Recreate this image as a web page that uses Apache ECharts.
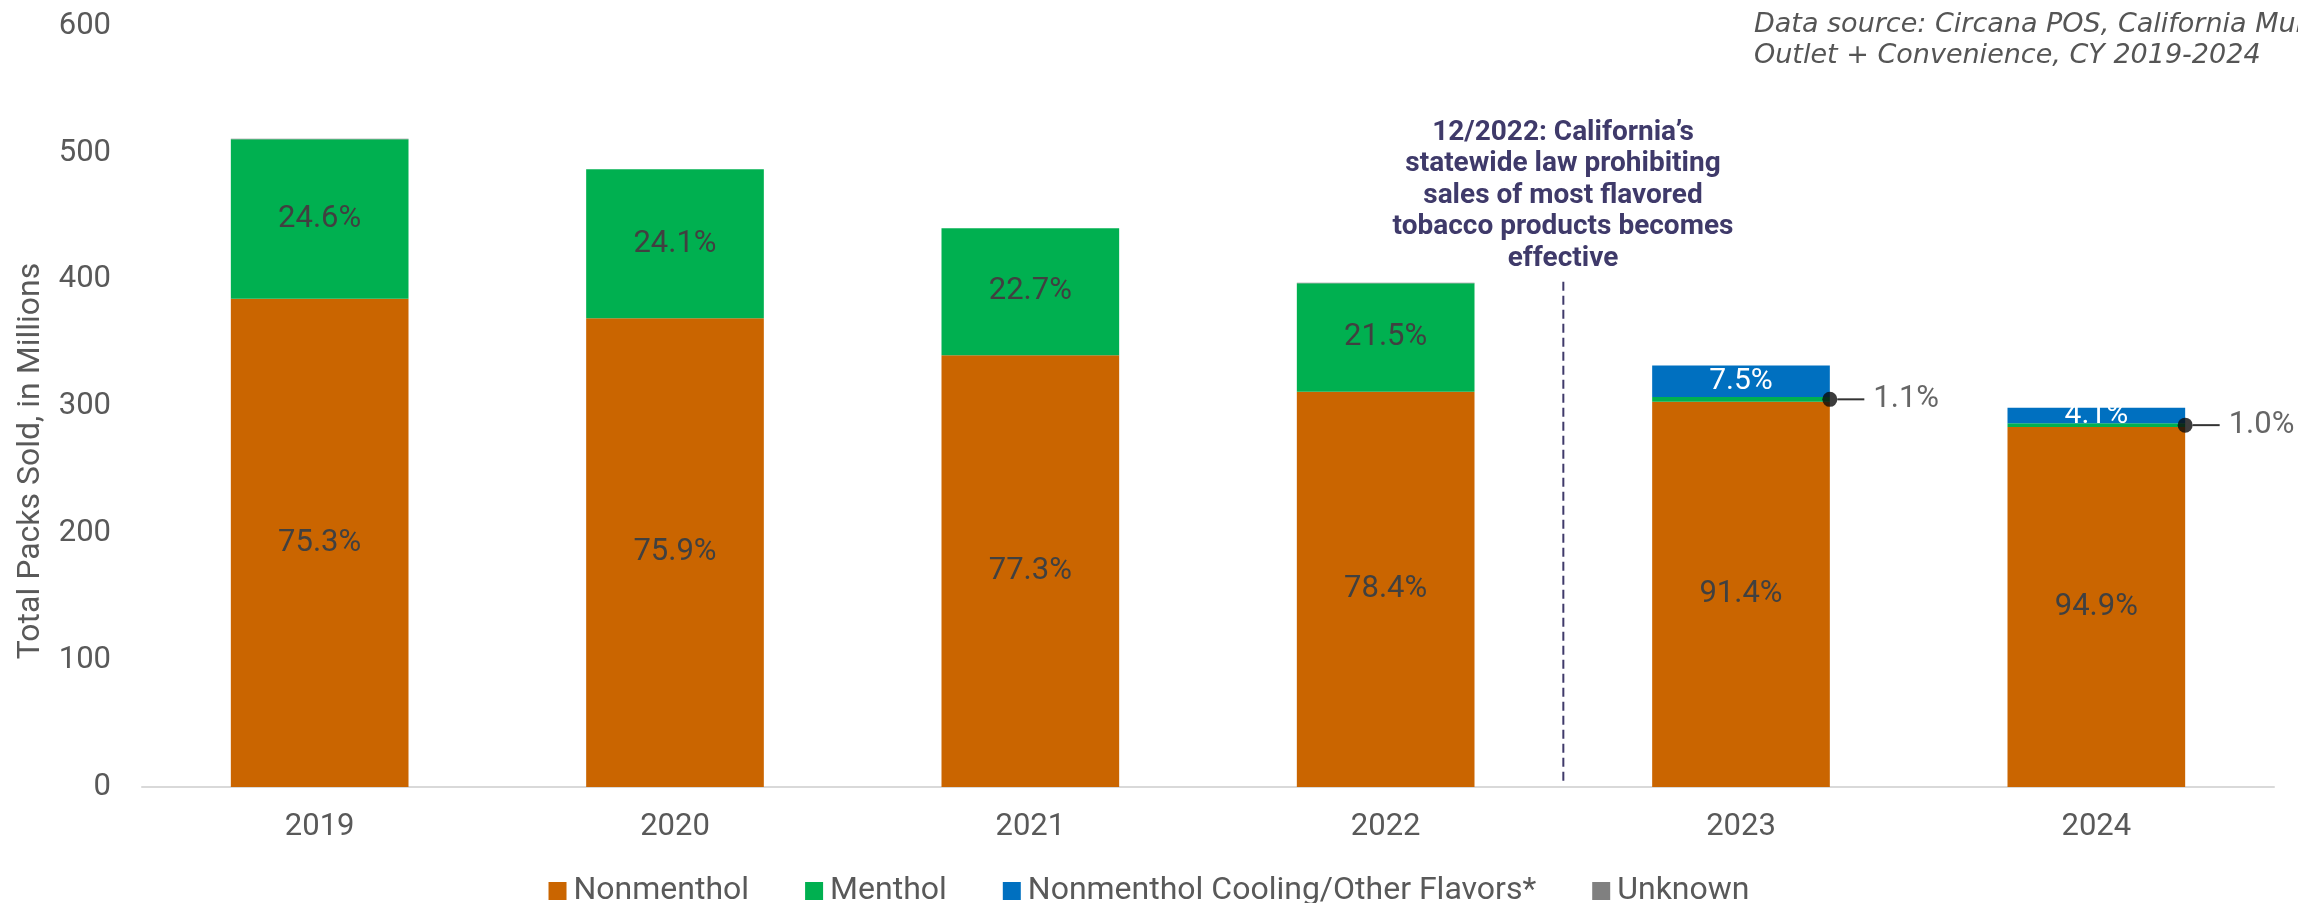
<!DOCTYPE html>
<html>
<head>
<meta charset="utf-8">
<script src="https://cdn.jsdelivr.net/npm/echarts@6/dist/echarts.min.js"></script>
<style>
  html, body { margin: 0; padding: 0; background: #fff; }
  #chart { width: 2298px; height: 903px; }
</style>
</head>
<body>
<div id="chart"></div>
<script>
const years = ["2019", "2020", "2021", "2022", "2023", "2024"]

// packs sold, millions
const nonmenthol = [385.0, 369.6, 340.5, 311.7, 303.8, 283.8]
const menthol = [125.7, 117.4, 100.0, 85.5, 3.7, 3.0]
const cooling = [0, 0, 0, 0, 24.9, 12.3]
const unknown = [0.5, 0, 0, 0.4, 0, 0]

// share labels as printed on the chart
const nonmentholPct = ["75.3%", "75.9%", "77.3%", "78.4%", "91.4%", "94.9%"]
const mentholPct = ["24.6%", "24.1%", "22.7%", "21.5%", "1.1%", "1.0%"]
const coolingPct = ["", "", "", "", "7.5%", "4.1%"]

const yTicks = [0, 100, 200, 300, 400, 500, 600]

// policy marker sits between 2022 and 2023 (category index 3.5)
const lawLineX = 3.5
const lawLineRange = [5, 399]

const annotation = "12/2022: California’s\nstatewide law prohibiting\nsales of most flavored\ntobacco products becomes\neffective"
const sourceNote = "Data source: Circana POS, California Multi\nOutlet + Convenience, CY 2019-2024"

const labelFont = "Roboto"
const labelColor = "#404040"
const axisColor = "#595959"

function barSeries(name, values, color, extra) {
  return Object.assign({
    name: name,
    type: "bar",
    stack: "total",
    barWidth: "50%",
    data: values,
    itemStyle: {color: color},
    emphasis: {disabled: true},
  }, extra || {})
}

function buildOption() {
  // callout dots: right edge of each bar, middle of the thin menthol slice
  const callouts = [4, 5].map(i => ({
    value: [i + 0.25, nonmenthol[i] + menthol[i] / 2],
    pct: mentholPct[i],
  }))

  return {
    animation: false,
    backgroundColor: "#fff",
    grid: {
      left: 142,
      right: 24,
      top: 26,
      bottom: 116,
    },
    legend: {
      data: ["Nonmenthol", "Menthol", "Nonmenthol Cooling/Other Flavors*", "Unknown"],
      left: "center",
      top: 870,
      icon: "rect",
      itemWidth: 18,
      itemHeight: 18,
      itemGap: 56,
      textStyle: {
        fontFamily: labelFont,
        fontSize: 32,
        color: axisColor,
        padding: [0, 0, 0, 2],
      },
      selectedMode: false,
    },
    xAxis: [
      {
        type: "category",
        data: years,
        axisLine: {lineStyle: {color: "#D9D9D9", width: 2}},
        axisTick: {show: false},
        axisLabel: {
          fontFamily: labelFont,
          fontSize: 31,
          color: axisColor,
          margin: 25,
        },
      },
      {
        type: "value",
        min: -0.5,
        max: 5.5,
        show: false,
      },
    ],
    yAxis: {
      type: "value",
      min: yTicks[0],
      max: yTicks[yTicks.length - 1],
      interval: 100,
      axisLine: {show: false},
      axisTick: {show: false},
      splitLine: {show: false},
      axisLabel: {
        fontFamily: labelFont,
        fontSize: 31,
        color: axisColor,
        margin: 31,
      },
    },
    graphic: [
      {
        type: "text",
        x: 31,
        y: 461,
        rotation: Math.PI / 2,
        style: {
          text: "Total Packs Sold, in Millions",
          fontFamily: labelFont,
          fontSize: 32,
          fill: axisColor,
          textAlign: "center",
          textVerticalAlign: "middle",
        },
      },
      {
        type: "text",
        x: 1563,
        y: 117,
        style: {
          text: annotation,
          fontFamily: labelFont,
          fontWeight: "bold",
          fontSize: 28,
          lineHeight: 31.5,
          fill: "#3F3A6A",
          textAlign: "center",
          textVerticalAlign: "top",
        },
      },
      {
        type: "text",
        x: 1754,
        y: 9,
        style: {
          text: sourceNote,
          fontFamily: "DejaVu Sans",
          fontStyle: "italic",
          fontSize: 27,
          lineHeight: 31,
          fill: "#555555",
          textAlign: "left",
          textVerticalAlign: "top",
        },
      },
    ],
    series: [
      barSeries("Nonmenthol", nonmenthol, "#CA6500", {
        label: {
          show: true,
          position: "inside",
          fontFamily: labelFont,
          fontSize: 31,
          color: labelColor,
          formatter: p => nonmentholPct[p.dataIndex],
        },
      }),
      barSeries("Menthol", menthol, "#00B050", {
        label: {
          show: true,
          position: "inside",
          fontFamily: labelFont,
          fontSize: 31,
          color: labelColor,
          formatter: p => (p.dataIndex < 4 ? mentholPct[p.dataIndex] : ""),
        },
      }),
      barSeries("Nonmenthol Cooling/Other Flavors*", cooling, "#0070C0", {
        label: {
          show: true,
          position: "inside",
          fontFamily: labelFont,
          fontSize: 30,
          color: "#fff",
          formatter: p => coolingPct[p.dataIndex],
        },
      }),
      barSeries("Unknown", unknown, "#808080"),
      {
        name: "law",
        type: "line",
        xAxisIndex: 1,
        data: [[lawLineX, lawLineRange[0]], [lawLineX, lawLineRange[1]]],
        symbol: "none",
        silent: true,
        lineStyle: {color: "#3F3A6A", width: 2, type: [9, 5]},
        z: 5,
      },
      {
        name: "callout",
        type: "scatter",
        xAxisIndex: 1,
        data: callouts,
        symbol: "circle",
        symbolSize: 15,
        silent: true,
        itemStyle: {color: "#0B0B0B"},
        z: 6,
        label: {
          show: true,
          position: "right",
          distance: 0,
          formatter: p => "{ln| }{t|" + p.data.pct + "}",
          rich: {
            ln: {width: 27, height: 2, backgroundColor: "#000"},
            t: {
              fontFamily: labelFont,
              fontSize: 31,
              color: labelColor,
              padding: [0, 0, 0, 9],
            },
          },
        },
      },
    ],
  }
}

const myChart = echarts.init(document.getElementById("chart"))
myChart.setOption(buildOption())
window.addEventListener("resize", () => myChart.resize())
</script>
</body>
</html>
